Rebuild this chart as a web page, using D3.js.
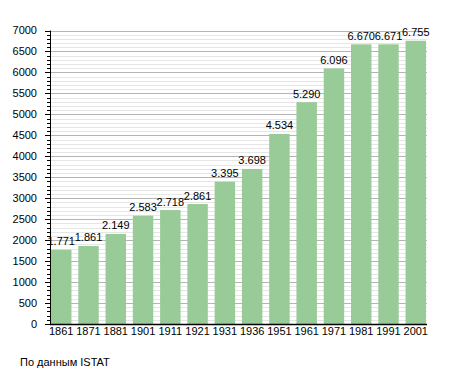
<!DOCTYPE html>
<html>
<head>
<meta charset="utf-8">
<script src="https://cdn.jsdelivr.net/npm/d3@7"></script>
<style>
  body { margin: 0; background: #fff; }
  text { font-family: "Liberation Sans", Arial, sans-serif; fill: #000; }
</style>
</head>
<body>
<svg></svg>
<script>
var years = ["1861", "1871", "1881", "1901", "1911", "1921", "1931", "1936", "1951", "1961", "1971", "1981", "1991", "2001"];
var population = [1771, 1861, 2149, 2583, 2718, 2861, 3395, 3698, 4534, 5290, 6096, 6670, 6671, 6755];
var valueLabels = ["1.771", "1.861", "2.149", "2.583", "2.718", "2.861", "3.395", "3.698", "4.534", "5.290", "6.096", "6.670", "6.671", "6.755"];
var majorTicks = [0, 500, 1000, 1500, 2000, 2500, 3000, 3500, 4000, 4500, 5000, 5500, 6000, 6500, 7000];
var sourceText = "По данным  ISTAT";

var width = 455;
var height = 373;
var svg = d3.select("svg").attr("width", width).attr("height", height);

var padding = { top: 30.5, right: 29, bottom: 49, left: 50 };

var xScale = d3
  .scaleBand()
  .domain(years)
  .range([padding.left + 1, width - padding.right])
  .paddingInner(0.25)
  .paddingOuter(0);

var yScale = d3
  .scaleLinear()
  .domain([0, 7000])
  .range([height - padding.bottom, padding.top]);

var minorTicks = d3.range(0, 7001, 100).filter(d => d % 500 !== 0);

// grid lines
svg
  .append("g")
  .selectAll("line")
  .data(minorTicks)
  .enter()
  .append("line")
  .attr("x1", padding.left)
  .attr("x2", width - padding.right + 1)
  .attr("y1", d => Math.round(yScale(d)) + 0.5)
  .attr("y2", d => Math.round(yScale(d)) + 0.5)
  .attr("stroke", "#e6e6e6");

svg
  .append("g")
  .selectAll("line")
  .data(majorTicks.slice(1))
  .enter()
  .append("line")
  .attr("x1", padding.left)
  .attr("x2", width - padding.right + 1)
  .attr("y1", d => Math.round(yScale(d)) + 0.5)
  .attr("y2", d => Math.round(yScale(d)) + 0.5)
  .attr("stroke", "#b4b4b4");

// bars
svg
  .selectAll("rect.bar")
  .data(population)
  .enter()
  .append("rect")
  .attr("class", "bar")
  .attr("x", (d, i) => xScale(years[i]))
  .attr("y", d => yScale(d))
  .attr("width", xScale.bandwidth())
  .attr("height", d => yScale(0) - yScale(d))
  .attr("fill", "#98cb98");

// value labels
svg
  .selectAll("text.value")
  .data(population)
  .enter()
  .append("text")
  .attr("class", "value")
  .attr("x", (d, i) => xScale(years[i]) + xScale.bandwidth() / 2)
  .attr("y", d => yScale(d) - 4.5)
  .attr("text-anchor", "middle")
  .attr("font-size", 11)
  .text((d, i) => valueLabels[i]);

// y axis
var yAxis = svg.append("g").attr("transform", "translate(" + padding.left + ",0)");
yAxis
  .selectAll("line.minor")
  .data(minorTicks)
  .enter()
  .append("line")
  .attr("x1", -3)
  .attr("x2", 0)
  .attr("y1", d => Math.round(yScale(d)) + 0.5)
  .attr("y2", d => Math.round(yScale(d)) + 0.5)
  .attr("stroke", "#000");
yAxis
  .selectAll("line.major")
  .data(majorTicks)
  .enter()
  .append("line")
  .attr("x1", -5)
  .attr("x2", 0)
  .attr("y1", d => Math.round(yScale(d)) + 0.5)
  .attr("y2", d => Math.round(yScale(d)) + 0.5)
  .attr("stroke", "#000");
yAxis
  .selectAll("text")
  .data(majorTicks)
  .enter()
  .append("text")
  .attr("x", -13)
  .attr("y", d => yScale(d))
  .attr("dy", "0.35em")
  .attr("text-anchor", "end")
  .attr("font-size", 11)
  .text(d => d);
yAxis
  .append("line")
  .attr("x1", 0.5)
  .attr("x2", 0.5)
  .attr("y1", yScale(7000))
  .attr("y2", yScale(0) + 1)
  .attr("stroke", "#000");

// x axis
var xAxis = svg.append("g").attr("transform", "translate(0," + (height - padding.bottom) + ")");
xAxis
  .append("line")
  .attr("x1", padding.left)
  .attr("x2", width - padding.right + 1)
  .attr("y1", 0.5)
  .attr("y2", 0.5)
  .attr("stroke", "#000")
  .attr("stroke-width", 1.5);
xAxis
  .selectAll("text")
  .data(years)
  .enter()
  .append("text")
  .attr("x", d => xScale(d) + xScale.bandwidth() / 2)
  .attr("y", 11)
  .attr("text-anchor", "middle")
  .attr("font-size", 11)
  .text(d => d);

// source
svg
  .append("text")
  .attr("x", 20)
  .attr("y", 366)
  .attr("font-size", 11)
  .text(sourceText);
</script>
</body>
</html>
